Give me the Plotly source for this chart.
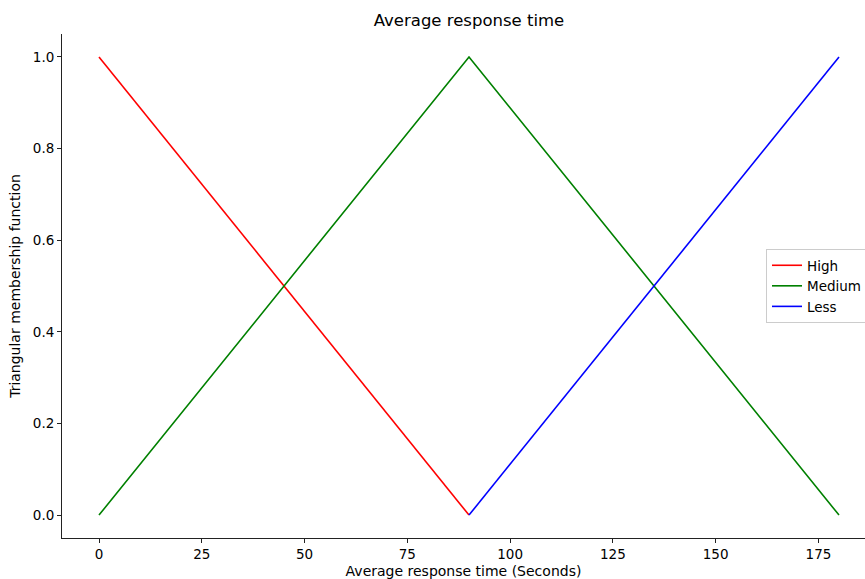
import plotly.graph_objects as go

high_x = [0, 90]
high_y = [1.0, 0.0]
medium_x = [0, 90, 180]
medium_y = [0.0, 1.0, 0.0]
less_x = [90, 180]
less_y = [0.0, 1.0]

x_ticks = [0, 25, 50, 75, 100, 125, 150, 175]
y_ticks = [0.0, 0.2, 0.4, 0.6, 0.8, 1.0]
y_tick_labels = ["0.0", "0.2", "0.4", "0.6", "0.8", "1.0"]

font = "DejaVu Sans"
W, H = 865, 579
L, R, T, B = 62, 0, 34, 41

fig = go.Figure()
fig.add_trace(go.Scatter(x=high_x, y=high_y, mode="lines", name="High",
                         line=dict(color="#ff0000", width=1.6)))
fig.add_trace(go.Scatter(x=medium_x, y=medium_y, mode="lines", name="Medium",
                         line=dict(color="#008000", width=1.6)))
fig.add_trace(go.Scatter(x=less_x, y=less_y, mode="lines", name="Less",
                         line=dict(color="#0000ff", width=1.6)))

pw = W - L - R
fig.update_layout(
    width=W, height=H,
    margin=dict(l=L, r=R, t=T, b=B, autoexpand=False),
    paper_bgcolor="white", plot_bgcolor="white",
    font=dict(family=font, size=13.5, color="#000000"),
    title=dict(text="Average response time", x=(469 - L) / pw, xref="paper",
               xanchor="center", y=1 - 20 / H, yanchor="middle",
               font=dict(size=16.5, color="#000000")),
    xaxis=dict(range=[-9, (865 - 99) / (740 / 180)], tickvals=x_ticks,
               showgrid=False, zeroline=False, showline=True, linecolor="#222",
               linewidth=1, ticks="outside", ticklen=4, tickcolor="#222",
               automargin=False,
               title=dict(text="Average response time (Seconds)", standoff=5,
                          font=dict(size=14))),
    yaxis=dict(range=[-0.05, 1.05], tickvals=y_ticks, ticktext=y_tick_labels,
               showgrid=False, zeroline=False, showline=True, linecolor="#222",
               linewidth=1, ticks="outside", ticklen=4, tickcolor="#222",
               automargin=False,
               title=dict(text="Triangular membership function", standoff=8,
                          font=dict(size=14))),
    legend=dict(x=(766 - L) / pw, y=(538 - 249) / (H - T - B), xanchor="left",
                yanchor="top", bordercolor="#cccccc", borderwidth=1,
                bgcolor="white", font=dict(size=13.5), tracegroupgap=0),
    showlegend=True,
)

fig.write_html("out.html")
